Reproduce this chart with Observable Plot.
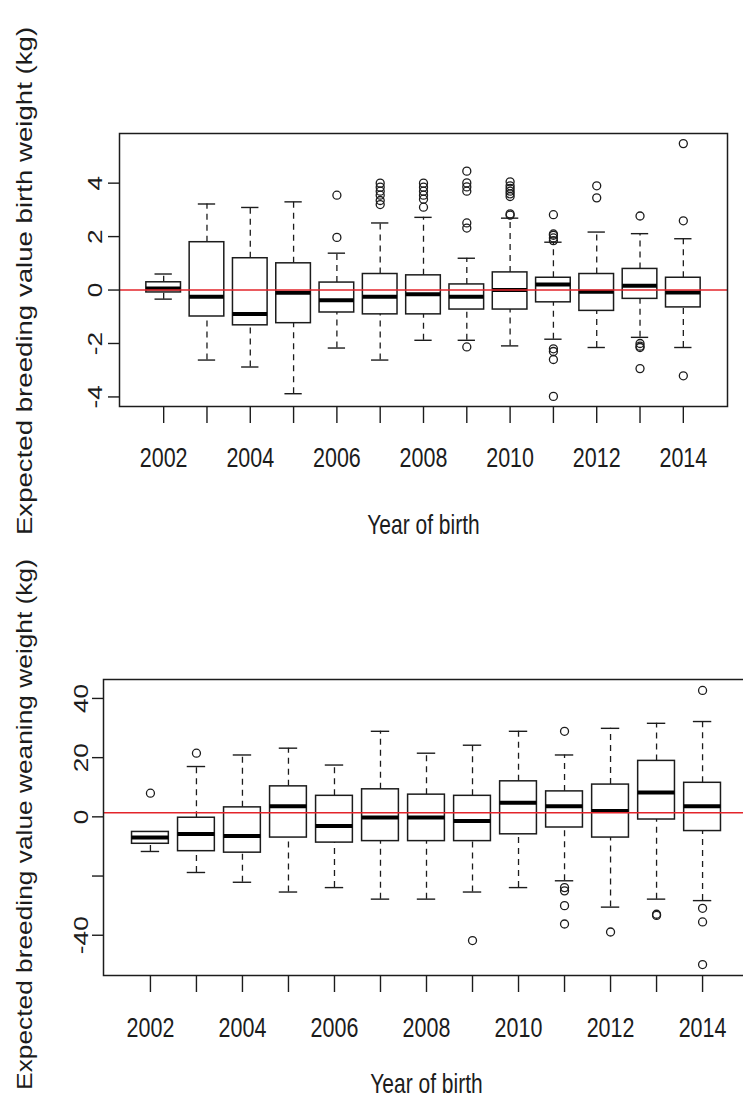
<!DOCTYPE html>
<html><head><meta charset="utf-8">
<script src="https://cdn.jsdelivr.net/npm/d3@7"></script>
<script src="https://cdn.jsdelivr.net/npm/@observablehq/plot@0.6"></script>
<style>
html,body{margin:0;padding:0;background:#fff;overflow:hidden;width:743px;height:1100px;}
.panel{display:block;width:743px;height:550px;overflow:hidden;position:relative;}
.panel svg{display:block;max-width:none !important;}
</style></head><body>
<div id="top" class="panel"></div>
<div id="bottom" class="panel"></div>
<script>
// ---- categories ----
const years = [2002, 2003, 2004, 2005, 2006, 2007, 2008, 2009, 2010, 2011, 2012, 2013, 2014];
const labelYears = [2002, 2004, 2006, 2008, 2010, 2012, 2014];
const xTitle = "Year of birth";

// ---- birth weight (kg) ----
const bwTitle = "Expected breeding value birth weight (kg)";
const bwLo  = [-0.34, -2.62, -2.88, -3.88, -2.17, -2.62, -1.88, -1.88, -2.09, -1.84, -2.15, -1.77, -2.15];
const bwQ1  = [-0.09, -0.99, -1.32, -1.24, -0.84, -0.91, -0.91, -0.73, -0.73, -0.46, -0.78, -0.33, -0.65];
const bwMed = [0.06, -0.25, -0.90, -0.10, -0.38, -0.25, -0.16, -0.25, 0.00, 0.21, -0.06, 0.16, -0.09];
const bwQ3  = [0.29, 1.79, 1.19, 1.00, 0.28, 0.60, 0.55, 0.21, 0.66, 0.46, 0.60, 0.79, 0.46];
const bwHi  = [0.60, 3.22, 3.09, 3.30, 1.38, 2.51, 2.72, 1.19, 2.69, 1.79, 2.17, 2.11, 1.92];
const bwOut = [
  [], [], [], [],
  [1.97, 3.55],
  [3.2, 3.35, 3.55, 3.7, 3.85, 4.0],
  [3.1, 3.4, 3.55, 3.7, 3.85, 4.0],
  [2.32, 2.51, 3.70, 3.86, 4.01, 4.45, -2.13],
  [2.8, 2.85, 3.5, 3.6, 3.7, 3.8, 3.9, 4.05],
  [2.82, 1.85, 1.95, 2.05, 2.1, -2.2, -2.3, -2.6, -3.98],
  [3.45, 3.9],
  [2.77, -2.0, -2.1, -2.15, -2.94],
  [2.59, 5.48, -3.21]
];
const bwRef = 0;
const bwTicks = [-4, -2, 0, 2, 4];
const bwTickLabels = [-4, -2, 0, 2, 4];

// ---- weaning weight (kg) ----
const wwTitle = "Expected breeding value weaning weight (kg)";
const wwLo  = [-11.7, -18.8, -22.1, -25.4, -23.9, -27.8, -27.8, -25.4, -23.9, -21.6, -30.5, -27.8, -28.3];
const wwQ1  = [-9.1, -11.6, -12.1, -7.0, -8.7, -8.2, -8.2, -8.2, -5.9, -3.6, -7.0, -0.9, -4.8];
const wwMed = [-7.0, -5.8, -6.5, 3.6, -3.1, -0.2, -0.2, -1.4, 4.8, 3.6, 2.0, 8.2, 3.6];
const wwQ3  = [-5.1, -0.3, 3.2, 10.3, 7.1, 9.3, 7.5, 7.1, 12.0, 8.6, 10.9, 18.9, 11.5];
const wwHi  = [-5.1, 17.0, 20.9, 23.2, 17.5, 28.9, 21.5, 24.2, 28.9, 20.9, 29.9, 31.6, 32.2];
const wwOut = [
  [8.0],
  [21.5],
  [], [], [], [], [],
  [-41.8],
  [],
  [28.9, -23.9, -25.0, -30.0, -36.2],
  [-38.9],
  [-32.9, -33.3],
  [42.7, -30.9, -35.5, -49.9]
];
const wwRef = 1.4;
const wwTicks = [-40, -20, 0, 20, 40];
const wwTickLabels = [-40, 0, 20, 40];

const ink = "#1c1c1c";
const font = "'Liberation Sans', Arial, sans-serif";

function chart(o) {
  const boxes = years.map((yr, i) => ({year: yr, lo: o.lo[i], q1: o.q1[i], med: o.med[i], q3: o.q3[i], hi: o.hi[i]}));
  const outs = years.flatMap((yr, i) => o.out[i].map(v => ({year: yr, v})));
  const svg = Plot.plot({
    width: o.width, height: 550,
    marginLeft: o.ml, marginRight: o.mr, marginTop: o.mt, marginBottom: o.mb,
    x: {domain: [2000.98, 2015.02], axis: null},
    y: {domain: o.yDomain, axis: null},
    style: {fontFamily: font, background: "white", color: ink},
    marks: [
      Plot.ruleX(boxes, {x: "year", y1: "q3", y2: "hi", stroke: ink, strokeWidth: 1.3, strokeDasharray: "6,5"}),
      Plot.ruleX(boxes, {x: "year", y1: "lo", y2: "q1", stroke: ink, strokeWidth: 1.3, strokeDasharray: "6,5"}),
      Plot.ruleY(boxes, {y: "hi", x1: d => d.year - 0.2, x2: d => d.year + 0.2, stroke: ink, strokeWidth: 1.4}),
      Plot.ruleY(boxes, {y: "lo", x1: d => d.year - 0.2, x2: d => d.year + 0.2, stroke: ink, strokeWidth: 1.4}),
      Plot.rect(boxes, {x1: d => d.year - 0.4, x2: d => d.year + 0.4, y1: "q1", y2: "q3", fill: "white", stroke: ink, strokeWidth: 1.5}),
      Plot.ruleY(boxes, {y: "med", x1: d => d.year - 0.4, x2: d => d.year + 0.4, stroke: "black", strokeWidth: 4}),
      Plot.dot(outs, {x: "year", y: "v", r: 4, stroke: ink, strokeWidth: 1.3, fill: "none"}),
      Plot.ruleY([o.ref], {stroke: "#e3242b", strokeWidth: 1.6}),
      Plot.frame({stroke: ink, strokeWidth: 1.5}),
      Plot.axisX(years, {tickSize: 17, fill: "none", stroke: ink, strokeWidth: 1.4, label: null}),
      Plot.axisY(o.yTicks, {tickSize: 11, fill: "none", stroke: ink, strokeWidth: 1.4, label: null}),
      Plot.text(labelYears, {x: d => d, text: d => String(d), frameAnchor: "bottom", lineAnchor: "middle", textAnchor: "middle", dy: o.xLabDy, fontSize: 21.5, fill: ink}),
      Plot.text([xTitle], {text: d => d, frameAnchor: "bottom", lineAnchor: "middle", textAnchor: "middle", dy: o.xTitleDy, fontSize: 21, fill: ink}),
      Plot.text(o.yTickLabels, {y: d => d, text: d => String(d), frameAnchor: "left", dx: o.yLabDx, rotate: -90, textAnchor: "middle", lineAnchor: "middle", fontSize: 21, fill: ink}),
      Plot.text([o.yTitle], {text: d => d, frameAnchor: "left", dx: o.yTitleDx, dy: o.yTitleDy, rotate: -90, textAnchor: "middle", lineAnchor: "middle", fontSize: 22.5, fill: ink})
    ]
  });
  svg.style.maxWidth = "none";
  // the last four groups are the four text marks, in order
  const groups = Array.from(svg.children).filter(el => el.tagName.toLowerCase() === "g");
  const textGroups = groups.slice(-4);
  const tfs = ["scale(1,1.32)", "scale(1,1.32)", "scale(1.25,1)", `scale(${o.titleStretch},1)`];
  textGroups.forEach((g, k) => {
    g.querySelectorAll("text").forEach(t => {
      const cur = t.getAttribute("transform") || "";
      t.setAttribute("transform", cur + " " + tfs[k]);
    });
  });
  return svg;
}

document.getElementById("top").appendChild(chart({
  lo: bwLo, q1: bwQ1, med: bwMed, q3: bwQ3, hi: bwHi, out: bwOut, ref: bwRef,
  yDomain: [-4.358, 5.858], yTicks: bwTicks, yTickLabels: bwTickLabels, yTitle: bwTitle,
  width: 743, ml: 119, mr: 16, mt: 133, mb: 144,
  xLabDy: 51.5, xTitleDy: 119, yLabDx: -24, yTitleDx: -95, yTitleDy: 11, titleStretch: 1.228
}));
document.getElementById("bottom").appendChild(chart({
  lo: wwLo, q1: wwQ1, med: wwMed, q3: wwQ3, hi: wwHi, out: wwOut, ref: wwRef,
  yDomain: [-53.6, 46.4], yTicks: wwTicks, yTickLabels: wwTickLabels, yTitle: wwTitle,
  width: 765, ml: 103, mr: 16, mt: 129, mb: 125,
  xLabDy: 52.5, xTitleDy: 109, yLabDx: -22, yTitleDx: -79, yTitleDy: -3, titleStretch: 1.17
}));
</script>
</body></html>
